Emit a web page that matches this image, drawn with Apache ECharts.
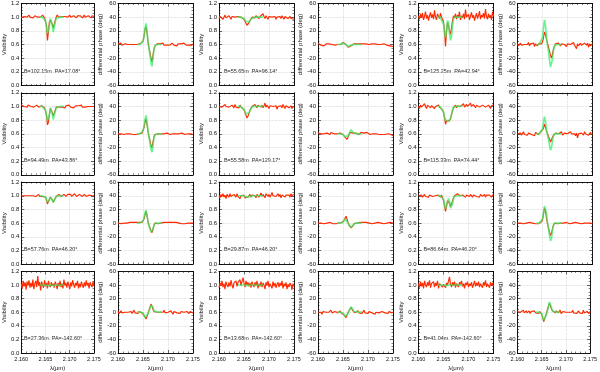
<!DOCTYPE html>
<html><head><meta charset="utf-8">
<script src="https://cdn.jsdelivr.net/npm/echarts@6/dist/echarts.min.js"></script>
<style>html,body{margin:0;padding:0;background:#fff}#c{width:600px;height:372px}</style>
</head><body><div id="c"></div>
<script>
// ---------------- DATA ----------------
const lam = [
2.1600,2.1602,2.1604,2.1606,2.1608,2.1610,2.1612,2.1614,2.1616,2.1618,
2.1620,2.1622,2.1624,2.1626,2.1628,2.1630,2.1632,2.1634,2.1636,2.1638,
2.1640,2.1642,2.1644,2.1646,2.1648,2.1650,2.1652,2.1654,2.1656,2.1658,
2.1660,2.1662,2.1664,2.1666,2.1668,2.1670,2.1672,2.1674,2.1676,2.1678,
2.1680,2.1682,2.1684,2.1686,2.1688,2.1690,2.1692,2.1694,2.1696,2.1698,
2.1700,2.1702,2.1704,2.1706,2.1708,2.1710,2.1712,2.1714,2.1716,2.1718,
2.1720,2.1722,2.1724,2.1726,2.1728,2.1730,2.1732,2.1734,2.1736,2.1738,
2.1740,2.1742,2.1744,2.1746,2.1748,2.1750];
const lamModel = [2.1638,2.1643,2.1647,2.1650,2.1652,2.1654,2.1656,2.1658,2.1660,2.1662,2.1664,2.1666,2.1668,2.1670,2.1672,2.1675,2.1680,2.1688];
const lamRange = [2.160, 2.175, 0.005];
const visRange = [0, 1.2, 0.2];
const phaseRange = [-60, 60, 20];
const panelLabels = [
'B=102.15m  PA=17.08°','B=55.65m  PA=96.14°','B=125.25m  PA=42.94°',
'B=94.49m  PA=43.86°','B=55.58m  PA=129.17°','B=115.33m  PA=74.44°',
'B=57.76m  PA=46.20°','B=29.87m  PA=46.20°','B=86.64m  PA=46.20°',
'B=27.36m  PA=-142.60°','B=13.68m  PA=-142.60°','B=41.04m  PA=-142.60°'];

// observed visibilities
const vis_obs_1 = [0.99,1.00,0.98,1.01,0.99,1.02,1.00,1.01,1.03,1.00, 1.01,1.02,0.99,1.00,1.02,1.01,1.03,1.00,1.02,1.01, 1.00,1.02,1.03,1.01,0.99,0.97,0.88,0.66,0.78,0.93, 0.96,0.93,0.90,0.84,0.86,0.95,1.00,1.03,1.01,1.00, 1.02,0.99,1.01,1.00,1.02,1.01,0.99,1.02,1.00,1.01, 1.03,1.00,0.99,1.01,1.02,1.00,1.01,0.99,1.02,1.00, 1.01,1.02,1.00,0.99,1.01,1.03,1.00,1.01,0.99,1.02, 1.00,1.01,0.99,1.02,1.00,1.01];
const vis_obs_2 = [0.98,1.01,0.99,1.02,0.97,1.00,1.03,0.99,1.01,0.98, 1.02,1.00,0.97,1.01,1.03,0.99,1.00,1.02,0.98,1.01, 1.03,0.99,1.00,1.02,0.98,0.97,0.94,0.91,0.88,0.89, 0.92,0.95,0.97,1.00,0.98,1.01,0.99,1.02,1.04,1.00, 0.98,1.01,1.03,0.99,1.05,1.01,0.98,1.02,1.00,0.97, 1.01,1.03,0.99,1.00,1.02,0.98,1.01,0.97,1.00,1.02, 0.99,1.01,0.98,1.02,1.00,0.97,1.01,0.99,1.02,0.98, 1.00,1.01,0.98,1.00,0.99,0.97];
const vis_obs_3 = [1.02,0.97,1.05,0.99,1.06,0.96,1.01,1.08,0.98,1.03, 0.95,1.02,1.07,0.99,1.04,0.97,1.10,1.00,0.96,1.05, 1.01,0.98,1.06,1.00,0.97,0.93,0.80,0.57,0.78,0.92, 0.88,0.80,0.75,0.84,0.95,1.02,0.99,1.05,0.97,1.03, 1.00,1.08,0.96,1.02,0.99,1.05,0.97,1.11,1.00,0.98, 1.04,0.96,1.02,1.07,0.99,1.03,0.95,1.01,1.06,0.98, 1.02,1.09,0.97,1.03,1.00,1.06,0.98,1.12,1.01,0.97, 1.05,0.99,1.03,0.96,1.08,1.01];
const vis_obs_4 = [1.02,1.01,1.03,1.00,1.02,1.01,0.99,1.02,1.00,1.01, 1.00,1.02,1.01,0.99,1.01,1.00,1.02,1.00,0.99,1.01, 1.00,1.01,0.99,1.00,0.98,0.96,0.88,0.73,0.77,0.88, 0.97,0.96,0.91,0.86,0.87,0.94,0.99,1.00,1.01,0.99, 1.01,1.00,0.99,1.01,1.00,0.98,1.01,1.00,0.99,1.02, 1.00,0.99,1.01,1.00,0.98,1.00,1.01,0.99,1.00,1.01, 0.99,1.00,1.02,0.99,1.00,1.01,0.99,1.00,0.98,1.00, 1.01,0.99,1.00,1.01,0.99,1.00];
const vis_obs_5 = [1.00,0.98,1.02,0.99,1.01,0.97,1.03,1.00,0.98,1.02, 0.99,1.01,0.97,1.02,1.00,0.98,1.03,0.99,1.01,1.00, 0.98,1.02,0.99,1.00,0.97,0.95,0.91,0.87,0.83,0.86, 0.90,0.94,0.97,1.00,1.02,0.99,1.03,1.01,0.98,1.02, 1.00,1.04,0.99,1.02,0.98,1.01,1.05,0.99,1.02,1.00, 0.97,1.01,1.03,0.99,1.00,1.02,0.98,1.01,0.96,1.00, 1.02,0.99,1.01,0.98,1.03,1.00,0.97,1.01,0.99,1.02, 0.98,1.00,1.01,0.97,1.00,0.99];
const vis_obs_6 = [1.00,0.97,1.02,0.99,1.01,0.98,1.04,1.00,0.97,1.02, 1.00,1.03,0.98,1.01,0.99,1.02,0.97,1.00,1.01,0.98, 1.02,0.99,1.00,0.98,0.95,0.91,0.84,0.74,0.79,0.78, 0.80,0.79,0.82,0.88,0.94,0.98,1.00,1.02,0.98,1.01, 0.99,1.03,1.00,0.98,1.02,1.04,0.99,1.01,1.03,1.00, 0.98,1.02,1.05,1.00,0.99,1.03,1.01,0.98,1.02,1.00, 1.04,0.99,1.01,0.97,1.02,1.00,1.03,0.99,1.01,0.98, 1.02,1.00,0.97,1.01,0.99,1.02];
const vis_obs_7 = [1.00,1.01,0.99,1.00,1.02,0.99,1.00,1.01,0.98,1.00, 1.01,0.99,1.00,1.02,1.00,0.99,1.01,1.00,1.02,0.99, 1.00,1.01,0.99,1.00,1.01,0.98,0.94,0.88,0.90,0.95, 0.98,0.97,0.94,0.91,0.92,0.96,0.99,1.01,1.00,1.02, 1.00,0.99,1.01,1.00,1.02,1.01,0.99,1.00,1.02,1.01, 1.00,1.02,0.99,1.01,1.00,1.03,1.01,0.99,1.01,1.00, 1.02,1.00,1.01,0.99,1.01,1.02,1.00,0.99,1.01,1.00, 1.01,0.99,1.02,1.00,1.01,1.00];
const vis_obs_8 = [1.00,0.97,1.02,0.99,1.03,0.98,1.01,0.96,1.02,1.00, 0.98,1.03,0.99,1.01,0.97,1.02,1.00,0.98,1.03,0.99, 1.01,0.96,1.00,1.02,0.98,1.01,0.97,0.99,0.97,0.98, 1.00,1.02,0.98,1.01,0.99,1.03,1.00,0.97,1.02,1.00, 0.98,1.01,1.04,0.99,1.02,1.00,0.97,1.03,1.01,0.99, 1.02,0.98,1.01,1.05,1.00,0.98,1.02,0.99,1.01,1.03, 0.99,1.02,0.97,1.01,1.00,1.03,0.98,1.01,1.02,0.99, 1.01,0.98,1.03,1.00,0.99,1.02];
const vis_obs_9 = [1.00,1.02,0.99,1.01,0.98,1.00,1.02,0.99,1.01,1.00, 0.98,1.01,1.00,1.02,0.99,1.01,0.98,1.00,1.02,0.99, 1.01,1.00,0.98,1.01,0.97,0.93,0.85,0.77,0.84,0.93, 0.94,0.89,0.84,0.86,0.92,0.97,1.00,1.02,0.99,1.03, 1.01,1.00,1.02,0.99,1.01,1.03,1.00,0.98,1.01,1.02, 1.00,0.99,1.02,1.00,0.98,1.01,1.00,1.02,0.99,1.01, 1.00,0.98,1.02,1.01,0.99,1.00,1.02,0.98,1.01,1.00, 0.99,1.01,1.00,0.98,1.01,1.00];
const vis_obs_10 = [1.02,0.95,1.06,0.98,1.04,0.93,1.05,0.99,1.07,0.96, 1.03,0.97,1.08,0.94,1.02,1.06,0.97,1.13,0.99,1.04, 0.92,1.05,1.00,0.96,1.07,0.98,1.03,0.95,1.06,1.00, 0.97,1.04,0.99,1.02,0.96,1.05,1.01,0.94,1.03,0.98, 1.06,0.97,1.02,0.95,1.08,0.99,1.03,0.96,1.05,1.00, 0.94,1.04,0.98,1.07,1.01,0.96,1.03,0.99,1.06,0.95, 1.02,0.97,1.05,1.00,0.96,1.04,0.98,1.07,0.99,1.03, 0.95,1.04,1.00,0.97,1.05,0.99];
const vis_obs_11 = [0.96,1.03,0.99,1.06,0.97,1.02,0.94,1.05,1.00,0.97, 1.04,0.98,1.07,1.00,0.95,1.03,1.01,1.06,0.98,1.04, 1.02,1.08,0.99,1.05,1.11,1.03,0.97,1.06,1.00,1.04, 0.98,1.03,0.96,1.05,1.00,0.97,1.04,0.99,1.06,0.95, 1.02,0.98,1.05,0.97,1.03,1.00,0.94,1.04,0.99,1.06, 0.97,1.02,1.00,0.95,1.05,0.98,1.03,0.96,1.01,1.04, 0.97,1.03,0.99,1.06,0.95,1.02,0.98,1.04,0.94,1.01, 0.97,1.03,1.00,0.93,1.02,0.98];
const vis_obs_12 = [1.02,0.96,1.05,0.98,1.03,0.95,1.06,1.00,0.97,1.04, 0.99,1.07,0.96,1.02,1.00,1.05,0.97,1.03,0.99,1.06, 0.95,1.02,1.00,1.04,0.97,1.01,0.99,0.96,1.03,1.00, 0.98,1.12,1.01,0.97,1.04,0.99,1.05,0.96,1.02,1.00, 0.97,1.04,1.01,1.06,0.98,1.02,0.95,1.03,1.00,1.05, 0.97,1.02,0.99,1.04,0.96,1.01,1.06,0.98,1.03,0.99, 1.05,0.97,1.02,1.00,0.96,1.04,0.99,1.07,0.97,1.02, 1.00,0.96,1.04,0.99,1.03,0.98];

// model visibilities (on lamModel)
const vis_mod_1 = [1.00,1.00,0.99,0.95,0.86,0.76,0.75,0.86,0.98,0.98,0.88,0.78,0.80,0.92,0.98,1.00,1.00,1.00];
const vis_mod_2 = [1.00,1.00,0.99,0.98,0.96,0.94,0.92,0.92,0.93,0.95,0.97,0.98,0.99,1.00,1.00,1.00,1.00,1.00];
const vis_mod_3 = [1.00,1.00,0.98,0.90,0.78,0.70,0.80,0.95,0.92,0.76,0.66,0.72,0.88,0.97,1.00,1.00,1.00,1.00];
const vis_mod_4 = [1.00,1.00,0.99,0.95,0.87,0.79,0.78,0.88,0.98,0.97,0.89,0.81,0.82,0.93,0.98,1.00,1.00,1.00];
const vis_mod_5 = [1.00,1.00,0.99,0.96,0.93,0.89,0.88,0.89,0.91,0.94,0.97,0.99,1.00,1.00,1.00,1.00,1.00,1.00];
const vis_mod_6 = [1.00,1.00,0.98,0.92,0.85,0.80,0.79,0.79,0.79,0.80,0.82,0.88,0.95,0.99,1.00,1.00,1.00,1.00];
const vis_mod_7 = [1.00,1.00,1.00,0.98,0.95,0.91,0.90,0.94,0.98,0.98,0.94,0.90,0.91,0.96,0.99,1.00,1.00,1.00];
const vis_mod_8 = [1.00,1.00,1.00,1.00,0.99,0.99,0.98,0.98,0.99,0.99,0.99,0.99,1.00,1.00,1.00,1.00,1.00,1.00];
const vis_mod_9 = [1.00,1.00,0.99,0.95,0.88,0.81,0.80,0.90,0.96,0.92,0.82,0.81,0.88,0.96,0.99,1.00,1.00,1.00];
const vis_mod_10 = [1.00,1.00,1.00,1.00,0.99,0.99,0.99,1.00,1.00,1.00,1.00,0.99,0.99,1.00,1.00,1.00,1.00,1.00];
const vis_mod_11 = [1.00,1.00,1.00,1.00,1.00,1.00,0.99,0.99,1.00,1.00,1.00,1.00,1.00,1.00,1.00,1.00,1.00,1.00];
const vis_mod_12 = [1.00,1.00,1.00,1.00,0.99,0.99,0.99,1.00,1.00,1.00,0.99,0.99,1.00,1.00,1.00,1.00,1.00,1.00];

// observed differential phases (deg)
const ph_obs_1 = [1,-1,0,2,-1,0,-2,1,0,-1, 0,1,-1,0,-2,1,0,-1,1,0, -1,0,1,0,2,5,12,22,26,18, 4,-5,-12,-20,-25,-16,-6,-2,0,1, -1,0,1,-1,0,2,-1,0,1,-1, 0,1,-1,0,2,0,-1,1,0,-2, 1,0,-1,1,0,-1,2,0,-1,1, 0,-1,1,0,-1,1];
const ph_obs_2 = [2,0,1,-1,0,1,-2,0,1,0, -1,1,0,-1,0,2,0,-1,1,0, 0,1,-1,0,2,3,4,2,0,-2, -4,-6,-4,-2,-1,0,1,0,2,1, 0,-1,1,2,0,1,3,0,1,-1, 1,0,2,0,1,-1,0,1,0,1, 0,-1,1,0,-1,0,1,-1,0,-1, 0,-1,-2,-1,-2,-3];
const ph_obs_3 = [1,-2,0,2,-1,1,-3,0,2,-1, 0,3,-2,1,0,-1,2,-3,1,0, -2,1,0,2,1,4,10,18,15,8, 2,-4,-10,-16,-20,-14,-6,-2,1,0, -1,2,0,-2,1,3,-1,0,2,-3, 1,-1,2,0,-2,1,3,-1,0,-6, 1,-2,0,2,-1,1,-3,2,0,-1, 2,-4,1,-2,0,1];
const ph_obs_4 = [0,1,-1,0,1,0,-1,1,0,0, 1,-1,0,1,0,-1,0,1,-1,0, 1,0,-1,0,1,3,9,17,22,14, 3,-4,-10,-17,-20,-12,-4,-1,0,1, 0,-1,1,0,-1,1,0,0,-1,1, 0,1,-1,0,1,0,-1,1,0,-1, 1,0,0,-1,1,0,1,-1,0,1, 0,-1,1,0,0,-1];
const ph_obs_5 = [1,0,2,0,-1,1,0,2,-1,1, 0,1,-1,2,0,1,0,-1,1,0, 2,0,1,-1,0,-1,-3,-5,-7,-8, -5,-1,2,4,3,1,0,2,1,0, 1,-1,0,2,1,0,1,-1,0,2, 0,1,-1,0,1,0,2,-1,0,1, 0,-1,1,0,-1,0,1,-1,0,-1, 0,-1,-2,-1,-2,-3];
const ph_obs_6 = [0,2,-1,1,-2,0,3,-1,1,0, -2,1,0,2,-1,0,1,-3,2,0, 1,-1,0,2,0,3,8,14,10,4, 0,-4,-8,-12,-10,-5,-2,0,1,-1, 2,0,-1,1,3,-2,0,1,-1,2, 0,-2,1,3,0,-1,2,0,-3,1, -6,0,2,-1,1,0,-2,3,0,-1, 1,-2,0,2,-1,0];
const ph_obs_7 = [0,1,0,-1,1,0,0,-1,1,0, -1,0,1,0,-1,1,0,0,1,-1, 0,1,0,-1,1,2,6,12,17,11, 2,-3,-7,-11,-14,-9,-3,0,1,0, -1,0,1,0,-1,0,1,0,-1,1, 0,-1,1,0,0,1,-1,0,1,0, -1,0,1,0,-1,1,0,-1,0,1, 0,1,-1,0,1,0];
const ph_obs_8 = [0,1,-1,0,1,0,-1,0,1,0, -1,0,1,0,0,-1,1,0,-1,0, 1,0,-1,0,1,2,4,7,10,6, 1,-3,-5,-7,-8,-4,-1,0,1,0, 0,-1,1,0,0,1,-1,0,1,0, -1,0,1,0,-1,0,1,0,0,-1, 1,0,-1,0,1,0,-1,1,0,0, -1,0,1,0,-1,0];
const ph_obs_9 = [0,-1,1,0,0,1,-1,0,1,0, -1,0,1,-1,0,0,1,0,-1,1, 0,-1,0,1,2,5,13,22,18,7, -1,-7,-13,-18,-15,-8,-3,0,1,0, -1,0,1,0,-1,1,0,0,-1,1, 0,1,-1,0,1,0,0,-1,1,0, -1,0,1,0,-1,0,1,0,-1,1, 0,-1,1,0,0,-1];
const ph_obs_10 = [1,-2,0,2,-1,1,-3,0,2,-1, 0,2,-1,1,-2,0,3,-1,1,0, -2,1,0,2,-1,0,-3,-7,-10,-6, -2,3,7,12,9,4,1,-1,2,0, -1,2,0,-2,1,0,3,-1,1,-2, 0,1,-1,2,0,-3,1,0,2,-1, 1,0,-2,1,3,-1,0,2,-1,1, 0,-2,1,0,2,-1];
const ph_obs_11 = [0,-2,1,0,-3,1,2,-1,0,1, -2,0,1,3,-1,0,-2,1,0,2, -1,0,2,-1,0,-2,-4,-6,-8,-4, -1,2,4,7,5,2,0,-1,1,0, 2,-1,0,1,-2,0,3,-1,1,0, -2,1,0,2,-1,0,1,-3,0,1, 2,-1,0,-2,1,3,0,-1,1,0, -2,1,0,2,-1,0];
const ph_obs_12 = [1,-1,2,0,-2,1,3,-1,0,2, -1,0,2,-2,1,0,-1,2,0,-1, 1,0,-2,1,0,-3,-8,-14,-12,-6, -1,4,9,13,10,5,2,0,1,-1, 2,0,-1,1,3,-2,0,1,-1,2, 0,-1,2,0,-2,1,0,3,-1,0, 1,-2,0,2,-1,1,0,-2,3,-1, 0,-3,1,0,-2,1];

// model differential phases (on lamModel)
const ph_mod_1 = [0,0,1,4,12,24,31,20,4,-6,-16,-27,-32,-20,-6,-1,0,0];
const ph_mod_2 = [0,0,1,2,3,2,0,-2,-3,-3,-2,-1,0,0,0,0,0,0];
const ph_mod_3 = [0,0,2,10,24,36,28,10,-2,-10,-22,-33,-35,-22,-8,-1,0,0];
const ph_mod_4 = [0,0,1,4,11,21,27,18,4,-5,-14,-23,-27,-17,-5,-1,0,0];
const ph_mod_5 = [0,0,0,-1,-2,-4,-5,-5,-3,0,3,6,7,4,1,0,0,0];
const ph_mod_6 = [0,0,1,7,17,25,18,6,-2,-8,-17,-24,-20,-10,-3,0,0,0];
const ph_mod_7 = [0,0,1,3,8,15,19,12,2,-4,-9,-13,-15,-9,-3,0,0,0];
const ph_mod_8 = [0,0,0,1,3,6,8,5,0,-3,-5,-6,-5,-3,-1,0,0,0];
const ph_mod_9 = [0,0,1,6,15,25,27,14,1,-8,-18,-26,-22,-10,-3,0,0,0];
const ph_mod_10 = [0,0,0,-1,-4,-8,-10,-7,-2,2,6,10,12,7,2,0,0,0];
const ph_mod_11 = [0,0,0,-1,-3,-6,-8,-6,-2,2,5,8,7,4,1,0,0,0];
const ph_mod_12 = [0,0,0,-2,-7,-12,-14,-10,-3,3,9,15,13,7,2,0,0,0];

// ---------------- BUILD ----------------
const visObs = [vis_obs_1,vis_obs_2,vis_obs_3,vis_obs_4,vis_obs_5,vis_obs_6,vis_obs_7,vis_obs_8,vis_obs_9,vis_obs_10,vis_obs_11,vis_obs_12];
const visMod = [vis_mod_1,vis_mod_2,vis_mod_3,vis_mod_4,vis_mod_5,vis_mod_6,vis_mod_7,vis_mod_8,vis_mod_9,vis_mod_10,vis_mod_11,vis_mod_12];
const phObs = [ph_obs_1,ph_obs_2,ph_obs_3,ph_obs_4,ph_obs_5,ph_obs_6,ph_obs_7,ph_obs_8,ph_obs_9,ph_obs_10,ph_obs_11,ph_obs_12];
const phMod = [ph_mod_1,ph_mod_2,ph_mod_3,ph_mod_4,ph_mod_5,ph_mod_6,ph_mod_7,ph_mod_8,ph_mod_9,ph_mod_10,ph_mod_11,ph_mod_12];

const FONT = '"Liberation Sans", Arial, Helvetica, sans-serif';
const colVis = [19, 219, 418.5], colPh = [118, 318, 517.5];
const W = 75, H = 82, TOP0 = 3.5, PITCH = 89.3;
const frame = {show: true, onZero: false, lineStyle: {color: '#000', width: 0.9}};
const tick = {show: true, inside: true, length: 3, lineStyle: {color: '#000', width: 0.6}};
const grids = [], xAxes = [], yAxes = [], series = [], graphics = [];

function addPanel(left, top, obs, mod, isVis, bottomRow) {
  const gi = grids.length;
  grids.push({left: left, top: top, width: W, height: H, containLabel: false});
  const yr = isVis ? visRange : phaseRange;
  ['bottom', 'top'].forEach(pos => {
    const main = pos === 'bottom';
    xAxes.push({type: 'value', gridIndex: gi, position: pos,
      min: lamRange[0], max: lamRange[1], interval: lamRange[2],
      axisLine: frame, axisTick: tick,
      minorTick: {show: true, splitNumber: 5, length: 1.5, lineStyle: {color: '#000', width: 0.5}},
      splitLine: {show: main, lineStyle: {color: '#cccccc', type: 'dotted', width: 0.7}},
      axisLabel: {show: main && bottomRow, fontSize: 5.5, color: '#111', margin: 3, fontFamily: FONT,
        formatter: v => v.toFixed(3)},
      name: (main && bottomRow) ? 'λ(μm)' : '', nameLocation: 'middle', nameGap: 12,
      nameTextStyle: {fontSize: 6, color: '#111', fontFamily: FONT}});
  });
  ['left', 'right'].forEach(pos => {
    const main = pos === 'left';
    yAxes.push({type: 'value', gridIndex: gi, position: pos,
      min: yr[0], max: yr[1], interval: yr[2],
      axisLine: frame, axisTick: tick,
      minorTick: {show: true, splitNumber: 4, length: 1.5, lineStyle: {color: '#000', width: 0.5}},
      splitLine: {show: main, lineStyle: {color: '#cccccc', type: 'dotted', width: 0.7}},
      axisLabel: {show: main, fontSize: 6, color: '#111', margin: 2, fontFamily: FONT,
        formatter: v => isVis ? v.toFixed(1) : String(Math.round(v))},
      name: main ? (isVis ? 'Visibility' : 'differential phase (deg)') : '',
      nameLocation: 'middle', nameGap: isVis ? 11 : 11, nameRotate: 90,
      nameTextStyle: {fontSize: 6, color: '#111', fontFamily: FONT}});
  });
  series.push({type: 'line', xAxisIndex: 2 * gi, yAxisIndex: 2 * gi, symbol: 'none', silent: true,
    data: lam.map((x, i) => [x, obs[i]]), lineStyle: {color: '#ff2a00', width: 1.15}, z: 2});
  series.push({type: 'line', xAxisIndex: 2 * gi, yAxisIndex: 2 * gi, symbol: 'none', silent: true,
    data: lamModel.map((x, i) => [x, mod[i]]), lineStyle: {color: '#33ee66', width: 1.7, opacity: 0.72}, z: 3});
  return gi;
}

for (let k = 0; k < 12; k++) {
  const row = Math.floor(k / 3), col = k % 3;
  const top = TOP0 + row * PITCH;
  const bottomRow = row === 3;
  addPanel(colVis[col], top, visObs[k], visMod[k], true, bottomRow);
  addPanel(colPh[col], top, phObs[k], phMod[k], false, bottomRow);
  graphics.push({type: 'text', left: colVis[col] + 5, top: top + H * (1 - 0.2 / 1.2) - 3.3, silent: true,
    style: {text: panelLabels[k], fontSize: 5.4, fontFamily: FONT, fill: '#222'}});
}

const chart = echarts.init(document.getElementById('c'), null, {renderer: 'canvas'});
chart.setOption({animation: false, backgroundColor: '#fff', grid: grids, xAxis: xAxes, yAxis: yAxes,
  series: series, graphic: graphics});
</script></body></html>
